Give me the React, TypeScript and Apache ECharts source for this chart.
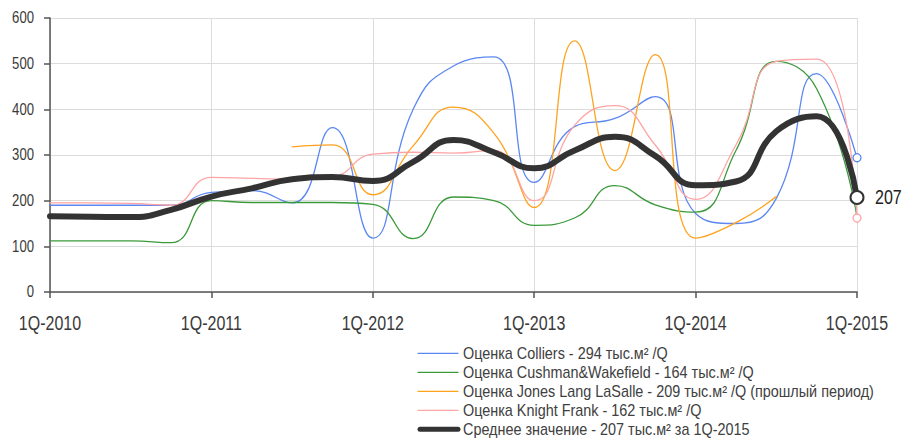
import React, { useEffect, useRef } from "react";
import * as echarts from "echarts";

// Quarterly axis, 1Q-2010 .. 1Q-2015
const quarters = [
  "1Q-2010", "2Q-2010", "3Q-2010", "4Q-2010",
  "1Q-2011", "2Q-2011", "3Q-2011", "4Q-2011",
  "1Q-2012", "2Q-2012", "3Q-2012", "4Q-2012",
  "1Q-2013", "2Q-2013", "3Q-2013", "4Q-2013",
  "1Q-2014", "2Q-2014", "3Q-2014", "4Q-2014",
  "1Q-2015",
];

// Estimates, thousand m² per quarter
const colliers = [190, 190, 190, 190, 218, 222, 195, 360, 118, 400, 495, 515, 240, 362, 380, 428, 172, 150, 205, 478, 294];
const cushman = [112, 112, 112, 108, 200, 196, 196, 196, 192, 117, 208, 200, 146, 162, 233, 191, 175, 310, 505, 445, 164];
const jll = [null, null, null, null, null, null, 318, 322, 213, 320, 405, 348, 185, 550, 266, 520, 118, 152, 209, null, null];
const knightFrank = [195, 195, 194, 190, 251, 249, 247, 252, 302, 306, 304, 310, 200, 365, 408, 322, 203, 322, 505, 510, 162];
const average = [166, 165, 164, 180, 209, 227, 247, 252, 243, 285, 333, 306, 271, 310, 340, 298, 234, 242, 352, 385, 207];

const seriesNames = [
  "Оценка Colliers - 294 тыс.м² /Q",
  "Оценка Cushman&Wakefield - 164 тыс.м² /Q",
  "Оценка Jones Lang LaSalle - 209 тыс.м² /Q (прошлый период)",
  "Оценка Knight Frank - 162 тыс.м² /Q",
  "Среднее значение - 207 тыс.м² за 1Q-2015",
];

const yTicks = [0, 100, 200, 300, 400, 500, 600];
const xTickEvery = 4;

const FONT = "'Liberation Sans', Arial, sans-serif";
const TEXT = "#3a3a3a";

const COLORS = ["#5b87f2", "#3a9a3a", "#ffa21c", "#ffa4a4", "#333333"];
const WIDTHS = [1.3, 1.3, 1.3, 1.3, 6];

// Hollow circle on the final quarter
function withEndMarker(values: (number | null)[], color: string, size: number, border: number) {
  const last = values.length - 1;
  return values.map((v, i) =>
    i === last && v != null
      ? {
          value: v,
          symbol: "circle",
          symbolSize: size,
          itemStyle: { color: "#fff", borderColor: color, borderWidth: border },
        }
      : v
  );
}

function line(name: string, data: any[], color: string, width: number) {
  return {
    name,
    type: "line",
    data,
    smooth: 0.5,
    symbol: "none",
    showSymbol: true,
    connectNulls: false,
    itemStyle: { color },
    lineStyle: { color, width, cap: "round", join: "round" },
    emphasis: { disabled: true },
  };
}

// Condensed text: regular face squeezed horizontally
function label(text: string, x: number, y: number, size: number, align: string, squeeze: number, fill = TEXT) {
  return {
    type: "text",
    x,
    y,
    scaleX: squeeze,
    silent: true,
    style: { text, fill, fontSize: size, fontFamily: FONT, align, verticalAlign: "middle" },
  };
}

export default function App() {
  const ref = useRef<HTMLDivElement>(null);

  useEffect(() => {
    if (!ref.current) return;
    const chart = echarts.init(ref.current, undefined, { renderer: "svg" });

    chart.setOption({
      animation: false,
      textStyle: { fontFamily: FONT },
      grid: { left: 50, right: 47, top: 18, bottom: 147, containLabel: false },
      xAxis: {
        type: "category",
        data: quarters,
        boundaryGap: false,
        axisLine: { lineStyle: { color: "#555", width: 1.5 } },
        axisTick: { interval: xTickEvery - 1, length: 6, lineStyle: { color: "#555", width: 1.5 } },
        axisLabel: { show: false, interval: xTickEvery - 1 },
        splitLine: { show: true, interval: xTickEvery - 1, lineStyle: { color: "#dcdcdc", width: 1 } },
      },
      yAxis: {
        type: "value",
        min: yTicks[0],
        max: yTicks[yTicks.length - 1],
        interval: yTicks[1] - yTicks[0],
        axisLine: { show: true, lineStyle: { color: "#555", width: 1.5 } },
        axisTick: { show: true, length: 6, lineStyle: { color: "#555", width: 1.5 } },
        axisLabel: { show: false },
        splitLine: { lineStyle: { color: "#dcdcdc", width: 1 } },
      },
      series: [
        line(seriesNames[0], withEndMarker(colliers, COLORS[0], 8, 1.3), COLORS[0], WIDTHS[0]),
        line(seriesNames[1], cushman, COLORS[1], WIDTHS[1]),
        line(seriesNames[2], jll, COLORS[2], WIDTHS[2]),
        line(seriesNames[3], withEndMarker(knightFrank, COLORS[3], 8, 1.3), COLORS[3], WIDTHS[3]),
        line(seriesNames[4], withEndMarker(average, COLORS[4], 13, 2), COLORS[4], WIDTHS[4]),
      ],
    });

    // Axis labels, end value and legend placed through the chart's own scales
    const graphics: any[] = [];
    quarters.forEach((q, i) => {
      if (i % xTickEvery !== 0) return;
      const [px, py] = chart.convertToPixel({ gridIndex: 0 }, [i, 0]) as number[];
      graphics.push(label(q, px, py + 31, 20, "center", 0.8));
    });
    yTicks.forEach((v) => {
      const [px, py] = chart.convertToPixel({ gridIndex: 0 }, [0, v]) as number[];
      graphics.push(label(String(v), px - 16, py, 16, "right", 0.82));
    });
    const last = average.length - 1;
    const [ex, ey] = chart.convertToPixel({ gridIndex: 0 }, [last, average[last]]) as number[];
    graphics.push(label(String(average[last]), ex + 18, ey, 20, "left", 0.8, "#222"));

    const legendX = 418;
    const legendY = 353.3;
    const rowStep = 19;
    seriesNames.forEach((name, i) => {
      const y = legendY + i * rowStep;
      const thick = WIDTHS[i] > 2;
      graphics.push({
        type: "line",
        silent: true,
        shape: { x1: legendX + (thick ? 2 : 0), y1: y, x2: legendX + 40, y2: y },
        style: { stroke: COLORS[i], lineWidth: thick ? 5 : 1.3, lineCap: "round" },
      });
      graphics.push(label(name, legendX + 45, y, 16, "left", 0.9, "#404040"));
    });

    chart.setOption({ graphic: graphics });
    return () => chart.dispose();
  }, []);

  return (
    <div
      ref={ref}
      style={{ position: "fixed", left: 0, top: 0, width: 904, height: 439, background: "#fff" }}
    />
  );
}
